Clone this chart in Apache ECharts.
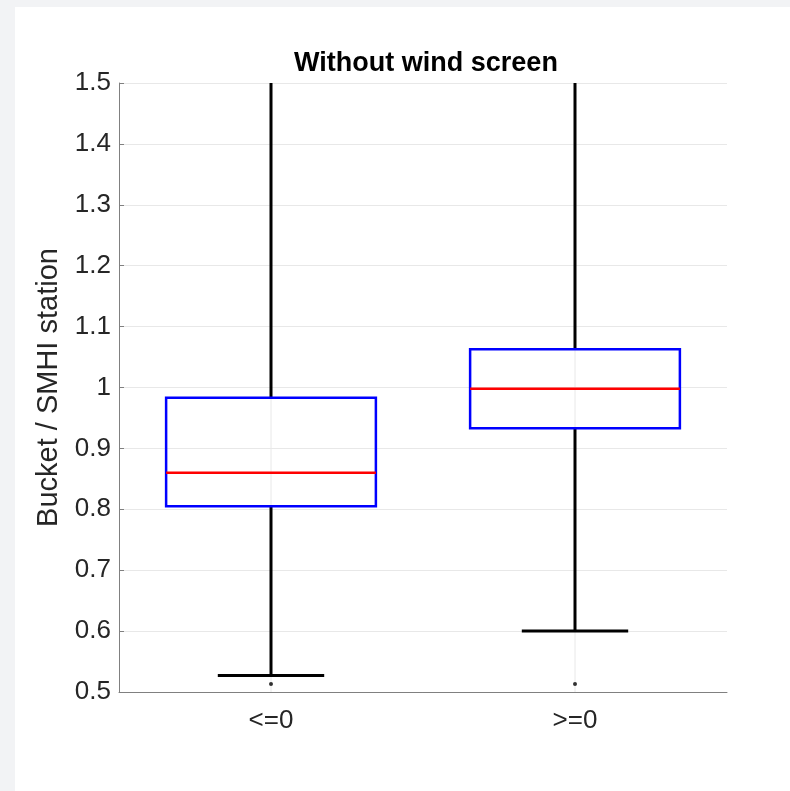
<!DOCTYPE html>
<html>
<head>
<meta charset="utf-8">
<script src="https://cdn.jsdelivr.net/npm/echarts@6/dist/echarts.min.js"></script>
<style>
  html, body { margin: 0; padding: 0; background: #f2f3f5; }
  #paper { position: absolute; left: 15px; top: 7px; right: 0; bottom: 0; background: #fff; }
  #chart { position: absolute; left: 0; top: 0; width: 790px; height: 791px; }
</style>
</head>
<body>
<div id="paper"></div>
<div id="chart"></div>
<script>
// box statistics
const categories = ['<=0', '>=0']
const lowerWhisker = [0.527, 0.600]
const q1 = [0.805, 0.933]
const median = [0.860, 0.998]
const q3 = [0.983, 1.063]
const upperWhisker = [1.62, 1.58] // runs off the top of the axes
const outlierCat = [0, 1]
const outlierVal = [0.513, 0.513]
const yTicks = { min: 0.5, max: 1.5, step: 0.1 }

const boxData = categories.map((c, i) => [i, lowerWhisker[i], q1[i], median[i], q3[i], upperWhisker[i]])
const outlierData = outlierCat.map((c, i) => [c, outlierVal[i]])

const font = '"Liberation Sans", Arial, Helvetica, sans-serif'
const chart = echarts.init(document.getElementById('chart'))

function renderBox(params, api) {
  const x = api.value(0)
  const band = api.size([1, 0])[0]
  const half = band * 0.345
  const capHalf = band * 0.175
  const p = (v) => api.coord([x, v])
  const lo = p(api.value(1)), b = p(api.value(2)), m = p(api.value(3)), t = p(api.value(4)), hi = p(api.value(5))
  const cx = m[0]
  const top = p(yTicks.max)[1], bottom = p(yTicks.min)[1]
  const black = { stroke: '#000', lineWidth: 3 }
  return {
    type: 'group',
    children: [
      // vertical grid line through the category centre
      { type: 'line', shape: { x1: cx, y1: top, x2: cx, y2: bottom }, style: { stroke: '#e8e8e8', lineWidth: 1 } },
      { type: 'line', shape: { x1: cx, y1: t[1], x2: cx, y2: hi[1] }, style: black },
      { type: 'line', shape: { x1: cx, y1: b[1], x2: cx, y2: lo[1] }, style: black },
      { type: 'line', shape: { x1: cx - capHalf, y1: lo[1], x2: cx + capHalf, y2: lo[1] }, style: black },
      { type: 'line', shape: { x1: cx - capHalf, y1: hi[1], x2: cx + capHalf, y2: hi[1] }, style: black },
      { type: 'rect', shape: { x: cx - half, y: t[1], width: half * 2, height: b[1] - t[1] },
        style: { fill: 'none', stroke: '#0000ff', lineWidth: 2.5 } },
      { type: 'line', shape: { x1: cx - half, y1: m[1], x2: cx + half, y2: m[1] },
        style: { stroke: '#ff0000', lineWidth: 2.5 } }
    ]
  }
}

chart.setOption({
  backgroundColor: 'transparent',
  animation: false,
  title: {
    text: 'Without wind screen',
    left: 421,
    top: 45,
    textAlign: 'center',
    textStyle: { fontFamily: font, fontSize: 27, fontWeight: 'bold', color: '#000' }
  },
  grid: { left: 119, right: 63, top: 83, bottom: 99 },
  xAxis: {
    type: 'category',
    data: categories,
    axisLine: { lineStyle: { color: '#808080', width: 1 } },
    axisTick: { show: false },
    splitLine: { show: false },
    axisLabel: { fontFamily: font, fontSize: 26, color: '#262626', margin: 16 }
  },
  yAxis: {
    type: 'value',
    min: yTicks.min,
    max: yTicks.max,
    interval: yTicks.step,
    name: 'Bucket / SMHI station',
    nameLocation: 'middle',
    nameGap: 55,
    nameTextStyle: { fontFamily: font, fontSize: 29, color: '#262626' },
    axisLine: { show: true, lineStyle: { color: '#808080', width: 1 } },
    axisTick: { show: true, inside: true, length: 5, lineStyle: { color: '#808080' } },
    splitLine: { show: true, lineStyle: { color: '#e8e8e8', width: 1 } },
    axisLabel: { fontFamily: font, fontSize: 26, color: '#262626', margin: 8 }
  },
  series: [
    {
      type: 'custom',
      clip: true,
      data: boxData,
      encode: { x: 0, y: [1, 2, 3, 4, 5] },
      renderItem: renderBox,
      z: 3
    },
    {
      type: 'scatter',
      data: outlierData,
      symbol: 'circle',
      symbolSize: 4,
      itemStyle: { color: '#000' },
      z: 4
    }
  ]
})
</script>
</body>
</html>
